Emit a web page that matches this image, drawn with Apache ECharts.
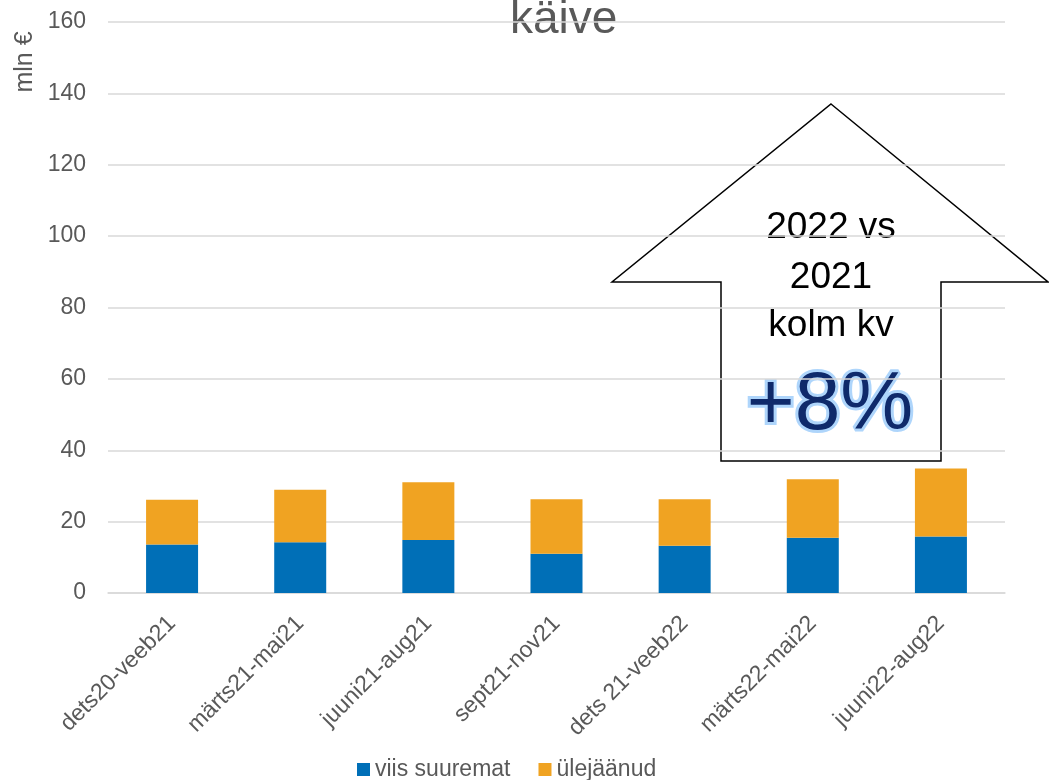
<!DOCTYPE html>
<html><head><meta charset="utf-8">
<script src="https://cdn.jsdelivr.net/npm/echarts@6/dist/echarts.min.js"></script>
<style>html,body{margin:0;padding:0;background:#fff}#c{width:1049px;height:780px}</style>
</head><body><div id="c"></div>
<script>
const categories = ['dets20-veeb21','märts21-mai21','juuni21-aug21','sept21-nov21','dets 21-veeb22','märts22-mai22','juuni22-aug22'];
const viisSuuremat = [13.6, 14.2, 14.85, 11.0, 13.25, 15.5, 15.8];
const ulejaanud = [12.5, 14.7, 16.15, 15.3, 13.0, 16.4, 19.1];
const yTicks = {min: 0, max: 160, interval: 20};
const seriesNames = ['viis suuremat', 'ülejäänud'];
const FONT = 'Liberation Sans, Arial, sans-serif';
const chart = echarts.init(document.getElementById('c'));
chart.setOption({
  animation: false,
  grid: {left: 108, right: 44, top: 22, bottom: 187, containLabel: false},
  xAxis: {
    type: 'category', data: categories,
    axisLine: {show: true, lineStyle: {color: '#d9d9d9', width: 1.5}},
    axisTick: {show: false},
    axisLabel: {rotate: 45, color: '#595959', fontSize: 23, fontFamily: FONT, margin: 27, interval: 0}
  },
  yAxis: {
    type: 'value', min: yTicks.min, max: yTicks.max, interval: yTicks.interval,
    axisLine: {show: false}, axisTick: {show: false},
    splitLine: {lineStyle: {color: '#d9d9d9', width: 1.5}},
    axisLabel: {color: '#595959', fontSize: 23, fontFamily: FONT, margin: 22}
  },
  legend: {
    top: 753, left: 352, itemWidth: 13, itemHeight: 13, itemGap: 28,
    icon: 'rect',
    textStyle: {color: '#595959', fontSize: 23, fontFamily: FONT},
    data: seriesNames
  },
  series: [
    {name: seriesNames[0], type: 'bar', stack: 's', data: viisSuuremat, barWidth: 52,
     itemStyle: {color: '#006fb7'}},
    {name: seriesNames[1], type: 'bar', stack: 's', data: ulejaanud, barWidth: 52,
     itemStyle: {color: '#f0a322'}}
  ],
  graphic: [
    {type: 'text', left: 510, top: -3, style: {text: 'käive', fontSize: 46, fontFamily: FONT, fill: '#595959'}},
    {type: 'text', x: 25, y: 62, rotation: Math.PI/2, style: {text: 'mln €', fontSize: 25, fontFamily: FONT, fill: '#595959', align: 'center', verticalAlign: 'middle'}},
    {type: 'polygon', shape: {points: [[831,104],[1048,282],[941,282],[941,461],[721,461],[721,282],[612,282]]},
     style: {fill: 'none', stroke: '#000', lineWidth: 1.5}},
    {type: 'text', x: 831, y: 228, style: {text: '2022 vs', fontSize: 37, fontFamily: FONT, fill: '#000', align: 'center', verticalAlign: 'middle'}},
    {type: 'text', x: 831, y: 278, style: {text: '2021', fontSize: 37, fontFamily: FONT, fill: '#000', align: 'center', verticalAlign: 'middle'}},
    {type: 'text', x: 831, y: 326, style: {text: 'kolm kv', fontSize: 37, fontFamily: FONT, fill: '#000', align: 'center', verticalAlign: 'middle'}},
    {type: 'text', x: 830, y: 406, style: {text: '+8%', fontSize: 82, fontFamily: FONT, fill: '#0f2a6b', align: 'center', verticalAlign: 'middle', stroke: 'rgba(160,206,250,0.85)', lineWidth: 6, shadowColor: 'rgba(120,185,245,0.9)', shadowBlur: 6}}
  ]
});
</script></body></html>
